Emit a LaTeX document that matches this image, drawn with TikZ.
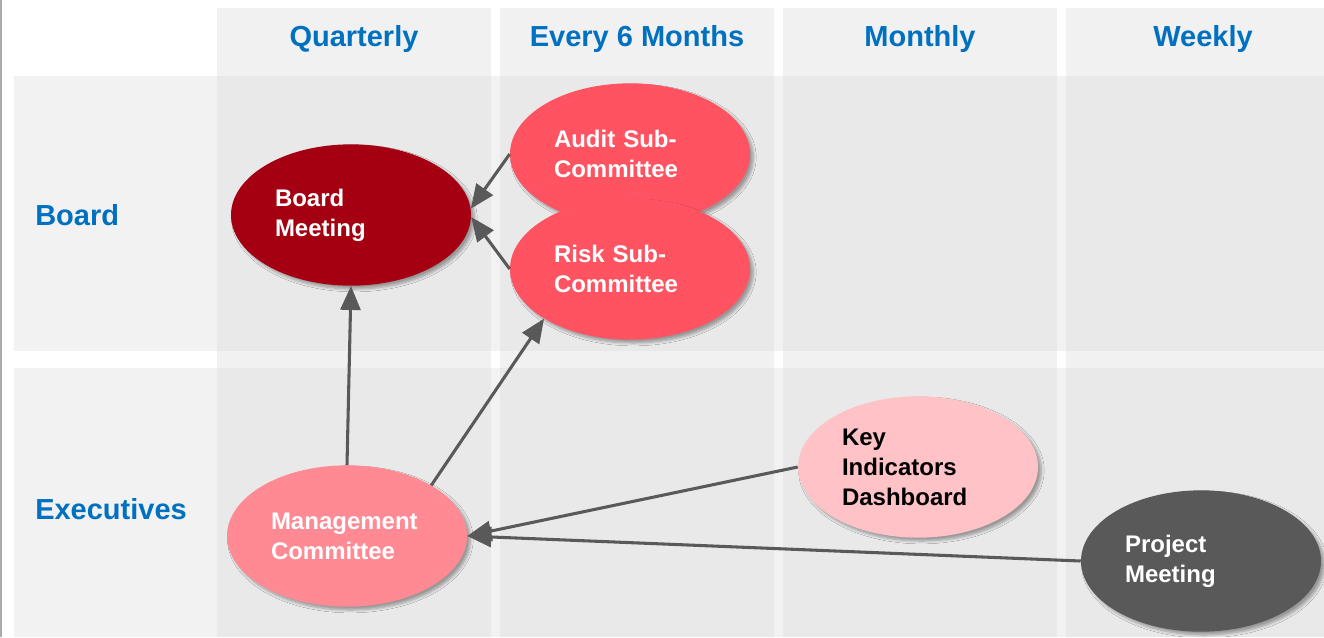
\documentclass[tikz,border=0pt]{standalone}
\usepackage{fontspec}
\setmainfont{Liberation Sans}
\usetikzlibrary{shapes.geometric,arrows.meta,shadows.blur}

\definecolor{headblue}{RGB}{0,112,192}
\definecolor{rowgray}{RGB}{242,242,242}
\definecolor{colgray}{RGB}{221,221,221}
\definecolor{edgegray}{RGB}{170,170,170}
\definecolor{boardred}{RGB}{165,0,17}
\definecolor{subred}{RGB}{255,83,98}
\definecolor{mgmtpink}{RGB}{255,138,147}
\definecolor{keypink}{RGB}{255,194,198}
\definecolor{projgray}{RGB}{89,89,89}
\definecolor{arrowgray}{RGB}{89,89,89}

\begin{document}
\begin{tikzpicture}[x=0.75pt, y=-0.75pt,
  rowband/.style={fill=rowgray},
  colband/.style={fill=colgray, fill opacity=0.385},
  head/.style={text=headblue, font=\bfseries\fontsize{21.75}{26}\selectfont},
  meeting/.style={ellipse, minimum width=180pt, minimum height=106pt, inner sep=0pt,
    text width=114pt, align=left, text=white, font=\bfseries\fontsize{18}{22.5}\selectfont,
    blur shadow={shadow xshift=2.5pt, shadow yshift=-2.5pt, shadow blur steps=6, shadow opacity=35}},
  flow/.style={draw=arrowgray, line width=2.3pt, -{Triangle[length=18pt,width=15pt]}}]
\useasboundingbox (0,0) rectangle (1324,637);
\fill[white] (0,0) rectangle (1324,637);
\fill[rowband] (14,76) rectangle (1324,351);
\fill[rowband] (14,368) rectangle (1324,637);
\foreach \x in {217,500,783,1066}
  \fill[colband] (\x,8) rectangle (\x+274,637);
\draw[edgegray, line width=1.5pt] (1,0) -- (1,637);

\node[head] (quarterly) at (354,39) {Quarterly};
\node[head] (sixmonths) at (637,39) {Every 6 Months};
\node[head] (monthly) at (920,39) {Monthly};
\node[head] (weekly) at (1203,39) {Weekly};
\node[head, anchor=west, inner sep=0pt] (boardrow) at (35,215) {Board};
\node[head, anchor=west, inner sep=0pt] (execrow) at (35,509) {Executives};

\node[meeting, fill=boardred] (board) at (351,215) {Board\\Meeting};
\node[meeting, fill=subred] (audit) at (630,154) {Audit Sub-\\Committee};
\node[meeting, fill=subred] (risk) at (630,269) {Risk Sub-\\Committee};
\node[meeting, fill=mgmtpink] (mgmt) at (347,536) {Management\\Committee};
\node[meeting, fill=keypink, text=black] (key) at (918,467) {Key\\Indicators\\Dashboard};
\node[meeting, fill=projgray] (project) at (1201,561) {Project\\Meeting};

\draw[flow] (audit.west) -- (board.3);
\draw[flow] (risk.west) -- (board.-1);
\draw[flow] (mgmt.north) -- (board.south);
\draw[flow] (mgmt.31) -- (risk.210);
\draw[flow] (key.west) -- (mgmt.east);
\draw[flow] (project.west) -- (mgmt.east);
\end{tikzpicture}
\end{document}
